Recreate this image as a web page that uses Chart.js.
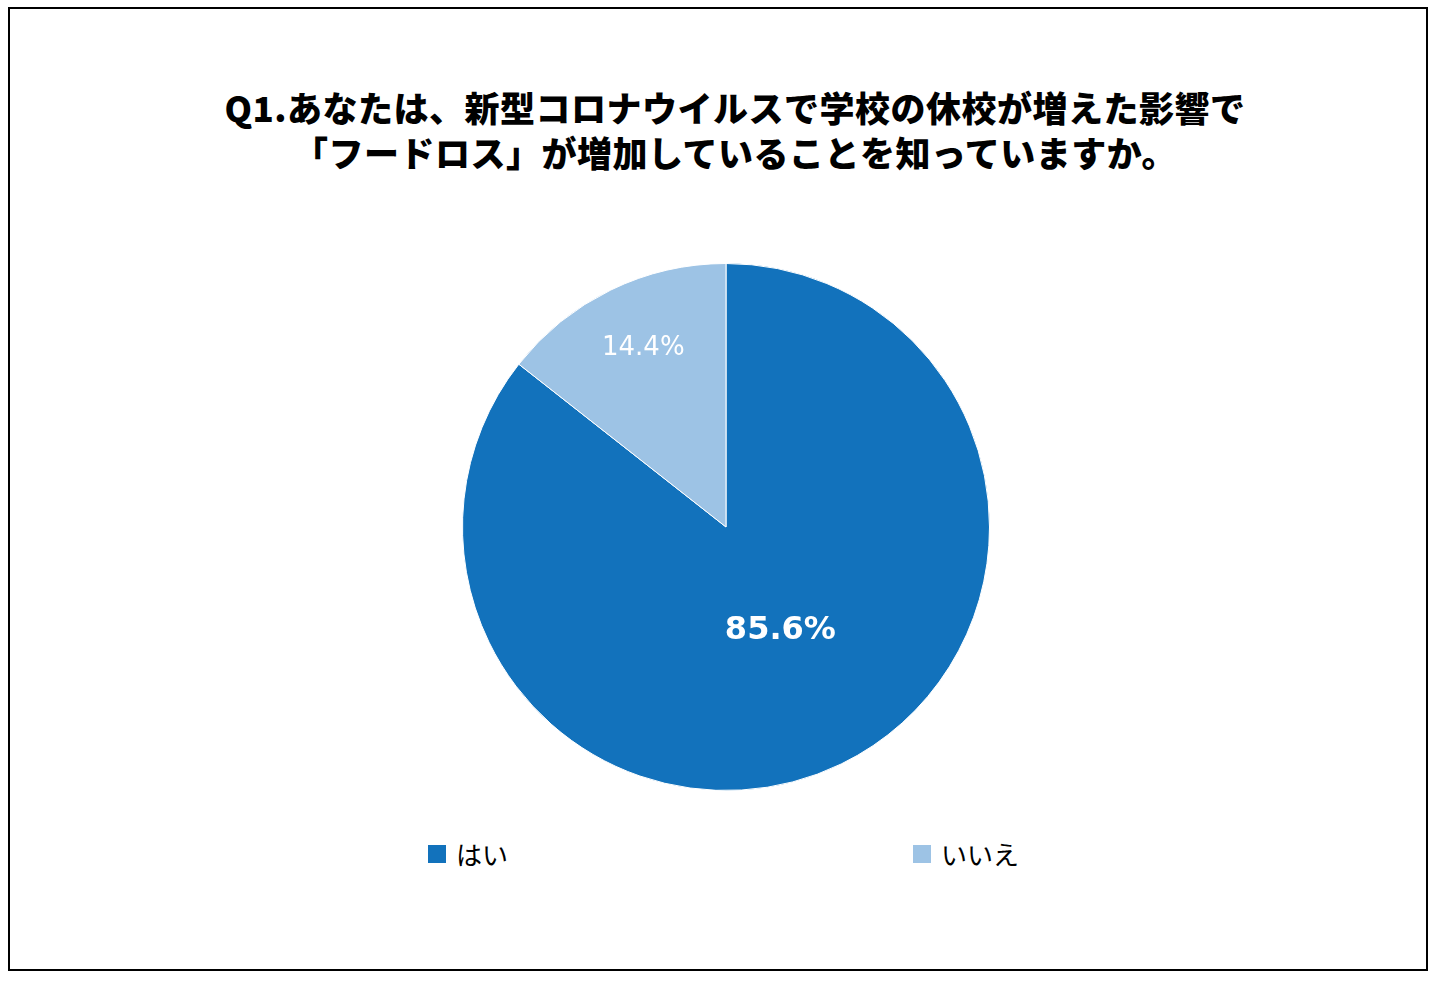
<!DOCTYPE html>
<html><head><meta charset="utf-8">
<script src="https://cdn.jsdelivr.net/npm/chart.js@4"></script>
<style>
body{margin:0;width:1434px;height:984px;background:#fff;font-family:Verdana,"Noto Sans CJK JP",sans-serif;position:relative;overflow:hidden}
#frame{position:absolute;left:8px;top:7px;width:1420px;height:964px;border:2px solid #000;box-sizing:border-box}
#title{position:absolute;left:0;width:1470px;top:84px;text-align:center;font-weight:900;font-size:35px;line-height:45px;color:#000;letter-spacing:0.5px}
#box{position:absolute;left:452px;top:253px;width:548px;height:548px}
.lg{position:absolute;top:835px;font-size:26px;color:#000;display:flex;align-items:center}
.sw{width:18px;height:18px;margin-right:10px}
</style></head><body>
<div id="frame"></div>
<div id="title">Q1.あなたは、新型コロナウイルスで学校の休校が増えた影響で<br>「フードロス」が増加していることを知っていますか。</div>
<div id="box"><canvas id="c"></canvas></div>
<div id="legend"></div>
<script>
const categories=["はい","いいえ"];
const values=[85.6,14.4];
const colors=["#1272BC","#9DC3E5"];
const labelPos=[0.42,0.77];
const labelFont=["bold 32px Verdana, 'DejaVu Sans', sans-serif","26px Verdana, 'DejaVu Sans', sans-serif"];
const lgX=[428,913];
const lg=document.getElementById('legend');
categories.forEach((c,i)=>{const d=document.createElement('div');d.className='lg';d.style.left=lgX[i]+'px';d.innerHTML='<span class="sw" style="background:'+colors[i]+'"></span>'+c;lg.appendChild(d);});
const lbl={id:'lbl',afterDatasetsDraw(ch){const ctx=ch.ctx;ch.getDatasetMeta(0).data.forEach((a,i)=>{const m=(a.startAngle+a.endAngle)/2,r=a.outerRadius*labelPos[i];ctx.save();ctx.fillStyle='#fff';ctx.font=labelFont[i];ctx.textAlign='center';ctx.textBaseline='middle';ctx.fillText(values[i].toFixed(1)+'%',a.x+Math.cos(m)*r+6,a.y+Math.sin(m)*r+4);ctx.restore();});}};
new Chart(document.getElementById('c'),{type:'pie',data:{labels:categories,datasets:[{data:values,backgroundColor:colors,borderWidth:1,borderColor:'#fff'}]},
options:{responsive:true,maintainAspectRatio:false,animation:false,layout:{padding:10},plugins:{legend:{display:false},tooltip:{enabled:false}}},plugins:[lbl]});
</script></body></html>
